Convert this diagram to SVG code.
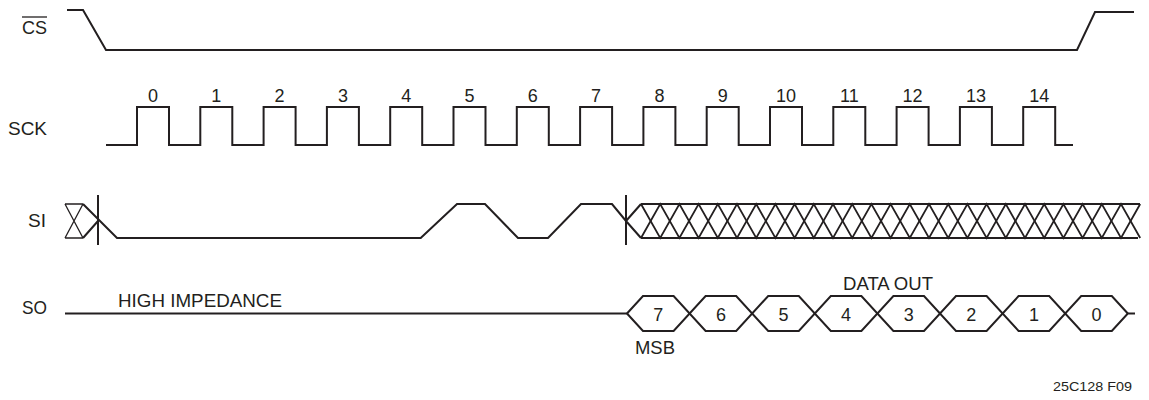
<svg xmlns="http://www.w3.org/2000/svg" width="1149" height="400" viewBox="0 0 1149 400">
<style>
.sig{fill:none;stroke:#231f20;stroke-width:2;stroke-linejoin:miter}
.thin{fill:none;stroke:#231f20;stroke-width:1.3}
.hatch{fill:none;stroke:#231f20;stroke-width:1.8}
.lbl{font-family:"Liberation Sans",Arial,sans-serif;font-size:18px;fill:#231f20}
.num{font-family:"Liberation Sans",Arial,sans-serif;font-size:18px;fill:#231f20;text-anchor:middle}
.fig{font-family:"Liberation Sans",Arial,sans-serif;font-size:13.5px;fill:#231f20}
</style>
<rect width="1149" height="400" fill="#fff"/>
<g id="labels">
<text class="lbl" x="22" y="34" textLength="25" lengthAdjust="spacingAndGlyphs">CS</text>
<line x1="22" y1="17" x2="47" y2="17" stroke="#231f20" stroke-width="1.3"/>
<text class="lbl" x="8" y="135" textLength="39" lengthAdjust="spacingAndGlyphs">SCK</text>
<text class="lbl" x="28" y="227" textLength="18" lengthAdjust="spacingAndGlyphs">SI</text>
<text class="lbl" x="22" y="314" textLength="25" lengthAdjust="spacingAndGlyphs">SO</text>
</g>
<g id="cs">
<path class="sig" d="M67,10 H83 L106,50 H1077 L1095,12 H1134"/>
</g>
<g id="sck">
<path class="sig" d="M106,145 H137 V107 H169 V145 H200.3 V107 H232.3 V145 H263.6 V107 H295.6 V145 H326.9 V107 H358.9 V145 H390.2 V107 H422.2 V145 H453.5 V107 H485.5 V145 H516.8 V107 H548.8 V145 H580.1 V107 H612.1 V145 H643.4 V107 H675.4 V145 H706.7 V107 H738.7 V145 H770 V107 H802 V145 H833.3 V107 H865.3 V145 H896.6 V107 H928.6 V145 H959.9 V107 H991.9 V145 H1023.2 V107 H1055.2 V145 H1073"/>
<g id="sck-numbers">
<text class="num" x="153" y="102">0</text>
<text class="num" x="216.3" y="102">1</text>
<text class="num" x="279.6" y="102">2</text>
<text class="num" x="342.9" y="102">3</text>
<text class="num" x="406.2" y="102">4</text>
<text class="num" x="469.5" y="102">5</text>
<text class="num" x="532.8" y="102">6</text>
<text class="num" x="596.1" y="102">7</text>
<text class="num" x="659.4" y="102">8</text>
<text class="num" x="722.7" y="102">9</text>
<text class="num" x="786" y="102">10</text>
<text class="num" x="849.3" y="102">11</text>
<text class="num" x="912.6" y="102">12</text>
<text class="num" x="975.9" y="102">13</text>
<text class="num" x="1039.2" y="102">14</text>
</g>
</g>
<g id="si">
<path class="thin" d="M65,204 H83 M65,238 H83 M65,204 L83,238 M83,204 L65,238"/>
<path class="sig" d="M83,204 L117,238 H420.7 L457,204 H485 L518,238 H548 L581,204 H612 L626,221 L641,238 M83,238 L98,221 M626,221 L641,204"/>
<line class="sig" x1="98" y1="195" x2="98" y2="245"/>
<line class="sig" x1="626" y1="195" x2="626" y2="245"/>
<path class="sig" d="M641,204 H1140 M641,238 H1138"/>
<path class="hatch" d="M641,204 L660.2,238 L679.4,204 L698.6,238 L717.8,204 L737,238 L756.2,204 L775.4,238 L794.6,204 L813.8,238 L833,204 L852.2,238 L871.4,204 L890.6,238 L909.8,204 L929,238 L948.2,204 L967.4,238 L986.6,204 L1005.8,238 L1025,204 L1044.2,238 L1063.4,204 L1082.6,238 L1101.8,204 L1121,238 L1140.2,204"/>
<path class="hatch" d="M641,238 L660.2,204 L679.4,238 L698.6,204 L717.8,238 L737,204 L756.2,238 L775.4,204 L794.6,238 L813.8,204 L833,238 L852.2,204 L871.4,238 L890.6,204 L909.8,238 L929,204 L948.2,238 L967.4,204 L986.6,238 L1005.8,204 L1025,238 L1044.2,204 L1063.4,238 L1082.6,204 L1101.8,238 L1121,204 L1140.2,238"/>
</g>
<g id="so">
<path class="sig" d="M65,313.5 H627"/>
<text class="lbl" x="118" y="307" textLength="164" lengthAdjust="spacingAndGlyphs">HIGH IMPEDANCE</text>
<path class="sig" d="M627,313.5 L643,296 H673.6 L705.6,331 H736.2 L768.2,296 H798.8 L830.8,331 H861.4 L893.4,296 H924 L956,331 H986.6 L1018.6,296 H1049.2 L1081.2,331 H1111.8 L1127.8,313.5 H1135"/>
<path class="sig" d="M627,313.5 L643,331 H673.6 L705.6,296 H736.2 L768.2,331 H798.8 L830.8,296 H861.4 L893.4,331 H924 L956,296 H986.6 L1018.6,331 H1049.2 L1081.2,296 H1111.8 L1127.8,313.5"/>
<g id="so-bits">
<text class="num" x="658.3" y="320.5">7</text>
<text class="num" x="720.9" y="320.5">6</text>
<text class="num" x="783.5" y="320.5">5</text>
<text class="num" x="846.1" y="320.5">4</text>
<text class="num" x="908.7" y="320.5">3</text>
<text class="num" x="971.3" y="320.5">2</text>
<text class="num" x="1033.9" y="320.5">1</text>
<text class="num" x="1096.5" y="320.5">0</text>
</g>
<text class="lbl" x="635" y="354" textLength="40" lengthAdjust="spacingAndGlyphs">MSB</text>
<text class="lbl" x="843" y="290" textLength="90" lengthAdjust="spacingAndGlyphs">DATA OUT</text>
</g>
<text class="fig" x="1053" y="391" textLength="79" lengthAdjust="spacingAndGlyphs">25C128 F09</text>
</svg>
